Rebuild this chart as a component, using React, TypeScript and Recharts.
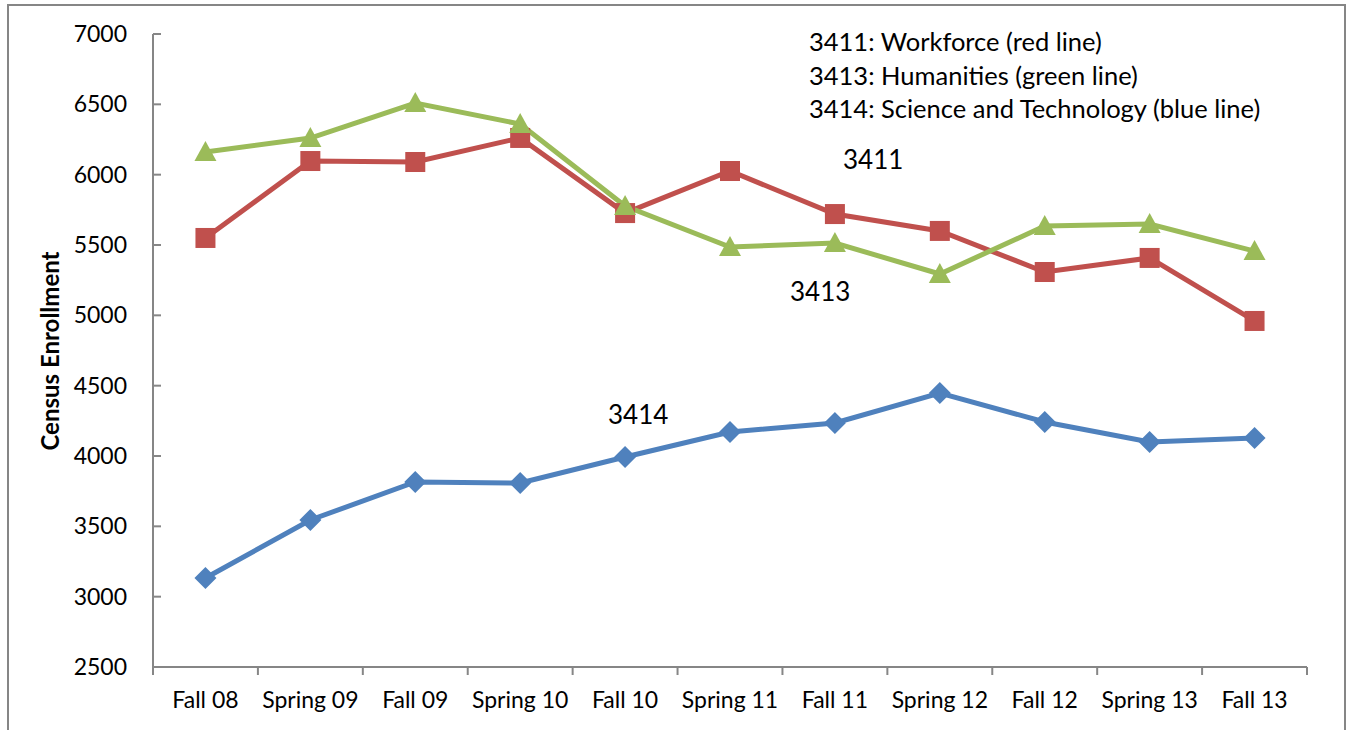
import { LineChart, Line, XAxis, YAxis } from 'recharts';

const terms = ['Fall 08', 'Spring 09', 'Fall 09', 'Spring 10', 'Fall 10', 'Spring 11', 'Fall 11', 'Spring 12', 'Fall 12', 'Spring 13', 'Fall 13'];
const workforce = [5550, 6097, 6090, 6261, 5727, 6026, 5720, 5600, 5308, 5408, 4960];
const humanities = [6161, 6260, 6509, 6360, 5777, 5486, 5514, 5294, 5635, 5649, 5457];
const sciTech = [3133, 3545, 3815, 3808, 3993, 4171, 4235, 4448, 4242, 4100, 4128];
const yTicks = [2500, 3000, 3500, 4000, 4500, 5000, 5500, 6000, 6500, 7000];
const legendLines = [
  '3411: Workforce (red line)',
  '3413: Humanities (green line)',
  '3414: Science and Technology (blue line)',
];

const data = terms.map((term, i) => ({
  term,
  w: workforce[i],
  h: humanities[i],
  s: sciTech[i],
}));

const W = 1347;
const H = 730;
const PLOT_LEFT = 153;
const PLOT_TOP = 34;
const PLOT_RIGHT = 1307;
const PLOT_BOTTOM = 667;
const PLOT_W = PLOT_RIGHT - PLOT_LEFT;
const HALF = PLOT_W / terms.length / 2;
const AXIS = '#868686';
const FONT = 'Lato, "Open Sans", sans-serif';

const RED = '#C0504D';
const GREEN = '#9BBB59';
const BLUE = '#4F81BD';

function XTick(props: any) {
  const { x, payload, index } = props;
  const last = index === terms.length - 1;
  return (
    <g>
      <line x1={x - HALF} y1={PLOT_BOTTOM} x2={x - HALF} y2={PLOT_BOTTOM + 8} stroke={AXIS} strokeWidth={2} />
      {last && (
        <line x1={x + HALF} y1={PLOT_BOTTOM} x2={x + HALF} y2={PLOT_BOTTOM + 8} stroke={AXIS} strokeWidth={2} />
      )}
      <text x={x} y={708} textAnchor="middle" fontSize={23} fontFamily={FONT} fill="#000">
        {payload.value}
      </text>
    </g>
  );
}

function YTick(props: any) {
  const { y, payload } = props;
  return (
    <g>
      <line x1={PLOT_LEFT} y1={y} x2={PLOT_LEFT + 8} y2={y} stroke={AXIS} strokeWidth={2} />
      <text x={127} y={y + 8} textAnchor="end" fontSize={23} fontFamily={FONT} fill="#000">
        {payload.value}
      </text>
    </g>
  );
}

const SquareDot = (p: any) => (
  <rect key={`sq-${p.index}`} x={p.cx - 10} y={p.cy - 10} width={20} height={20} fill={RED} />
);
const TriangleDot = (p: any) => (
  <polygon
    key={`tr-${p.index}`}
    points={`${p.cx},${p.cy - 11} ${p.cx - 11},${p.cy + 9} ${p.cx + 11},${p.cy + 9}`}
    fill={GREEN}
  />
);
const DiamondDot = (p: any) => (
  <polygon
    key={`di-${p.index}`}
    points={`${p.cx},${p.cy - 11} ${p.cx + 11},${p.cy} ${p.cx},${p.cy + 11} ${p.cx - 11},${p.cy}`}
    fill={BLUE}
  />
);

export default function App() {
  return (
    <div style={{ position: 'fixed', left: 0, top: 0, width: W, height: H, overflow: 'hidden', background: '#fff' }}>
      <div
        style={{
          position: 'absolute',
          left: 7,
          top: 4,
          width: 1339,
          height: 800,
          boxSizing: 'border-box',
          border: `2px solid ${AXIS}`,
        }}
      />
      <div style={{ position: 'absolute', left: 0, top: 0 }}>
        <LineChart
          width={W}
          height={H}
          data={data}
          margin={{ top: PLOT_TOP, right: W - PLOT_RIGHT, bottom: 13, left: 53 }}
        >
          <XAxis
            dataKey="term"
            scale="point"
            padding={{ left: HALF, right: HALF }}
            height={50}
            interval={0}
            tickLine={false}
            axisLine={{ stroke: AXIS, strokeWidth: 2 }}
            tick={<XTick />}
          />
          <YAxis
            width={100}
            domain={[2500, 7000]}
            ticks={yTicks}
            interval={0}
            tickLine={false}
            axisLine={{ stroke: AXIS, strokeWidth: 2 }}
            tick={<YTick />}
          />
          <Line dataKey="w" stroke={RED} strokeWidth={5} dot={SquareDot} activeDot={false} isAnimationActive={false} />
          <Line dataKey="h" stroke={GREEN} strokeWidth={5} dot={TriangleDot} activeDot={false} isAnimationActive={false} />
          <Line dataKey="s" stroke={BLUE} strokeWidth={5} dot={DiamondDot} activeDot={false} isAnimationActive={false} />
        </LineChart>
      </div>
      <svg width={W} height={H} style={{ position: 'absolute', left: 0, top: 0, pointerEvents: 'none' }}>
        <text
          transform="translate(59, 351) rotate(-90)"
          textAnchor="middle"
          fontSize={24}
          fontWeight="bold"
          fontFamily={FONT}
          fill="#000"
        >
          Census Enrollment
        </text>
        {legendLines.map((t, i) => (
          <text key={t} x={809} y={51 + i * 33.5} fontSize={25.5} fontFamily={FONT} fill="#000">
            {t}
          </text>
        ))}
        <text x={843} y={168.5} fontSize={26} fontFamily={FONT} fill="#000">3411</text>
        <text x={790} y={300.5} fontSize={26} fontFamily={FONT} fill="#000">3413</text>
        <text x={608} y={423.5} fontSize={26} fontFamily={FONT} fill="#000">3414</text>
      </svg>
    </div>
  );
}
